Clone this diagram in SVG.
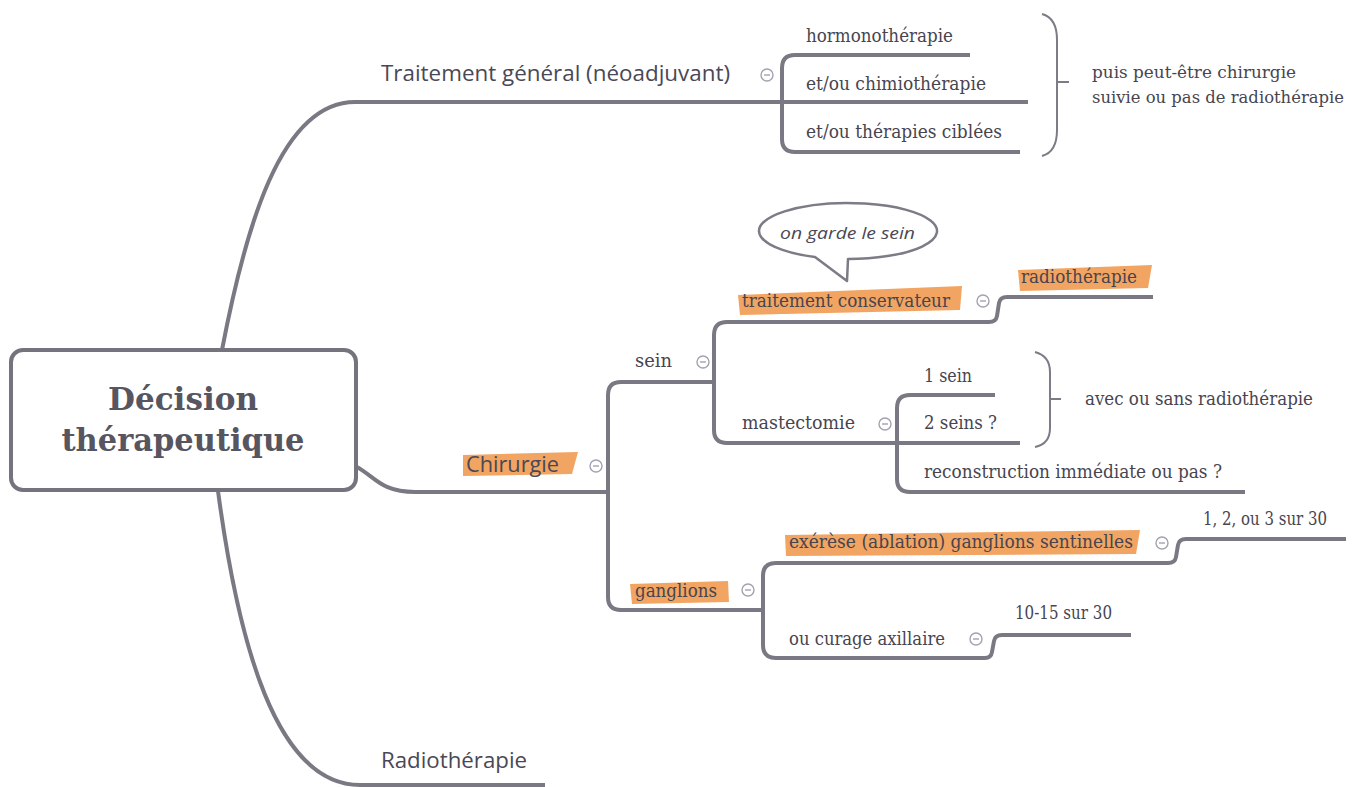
<svg xmlns="http://www.w3.org/2000/svg" width="1367" height="787" viewBox="0 0 1367 787">
<style>
.ln{fill:none;stroke:#7a7882;stroke-width:4;stroke-linejoin:round}
.br{fill:none;stroke:#7d7b86;stroke-width:2}
.sans{font-family:"Open Sans","DejaVu Sans",sans-serif;fill:#4a4855;font-size:22px}
.ser{font-family:"DejaVu Serif","Liberation Serif",serif;fill:#47454f;font-size:18.5px}
.hl{fill:#f2a462}
.tg circle{fill:#fff;stroke:#a3a2b0;stroke-width:1.4}
.tg path{stroke:#a3a2b0;stroke-width:1.4}
</style>
<defs>
<g id="tog" class="tg"><circle r="6"/><path d="M-3,0H3"/></g>
</defs>
<rect width="1367" height="787" fill="#fff"/>
<g id="connectors">
<path class="ln" d="M222,350 C245,230 280,102 355,102 L1028,102"/>
<path class="ln" d="M970,55 L795,55 Q782,55 782,68 L782,139 Q782,152 795,152 L1020,152"/>
<path class="ln" d="M218,491 C238,640 275,785 360,785 L545,785"/>
<path class="ln" d="M355,466 C375,476 380,492 415,492 L607,492"/>
<path class="ln" d="M714,382 L621,382 Q608,382 608,395 L608,597 Q608,610 621,610 L763,610"/>
<path class="ln" d="M1153,297 L1007,297 Q1000,297 999,303 L997,316 Q996,322 989,322 L727,322 Q714,322 714,335 L714,430 Q714,443 727,443 L1020,443"/>
<path class="ln" d="M995,395 L910,395 Q897,395 897,408 L897,479 Q897,492 910,492 L1245,492"/>
<path class="ln" d="M1346,539 L1186,539 Q1179,539 1178,545 L1176,557 Q1175,563 1168,563 L776,563 Q763,563 763,576 L763,645 Q763,658 776,658 L985,658 Q991,658 992,652 L994,641 Q995,635 1002,635 L1131,635"/>
<path class="br" d="M1042,14 Q1057,18 1057,40 L1057,130 Q1057,152 1042,156 M1057,82 L1069,82"/>
<path class="br" d="M1035,352 Q1050,356 1050,372 L1050,428 Q1050,444 1035,447 M1050,399 L1061,399"/>
</g>
<g id="root">
<rect x="11" y="350" width="345" height="140" rx="12" fill="#fff" stroke="#75737d" stroke-width="4"/>
<text x="183" y="410" text-anchor="middle" font-family="'DejaVu Serif',serif" font-weight="bold" font-size="31" fill="#57555f" textLength="150" lengthAdjust="spacingAndGlyphs">Décision</text>
<text x="183" y="451" text-anchor="middle" font-family="'DejaVu Serif',serif" font-weight="bold" font-size="31" fill="#57555f" textLength="243" lengthAdjust="spacingAndGlyphs">thérapeutique</text>
</g>
<g id="n-traitement-general">
<text class="sans" x="381" y="81" textLength="349" lengthAdjust="spacingAndGlyphs">Traitement général (néoadjuvant)</text>
<use href="#tog" x="767" y="75"/>
</g>
<g id="n-hormono"><text class="ser" x="806" y="42" textLength="147" lengthAdjust="spacingAndGlyphs">hormonothérapie</text></g>
<g id="n-chimio"><text class="ser" x="806" y="90" textLength="180" lengthAdjust="spacingAndGlyphs">et/ou chimiothérapie</text></g>
<g id="n-ciblees"><text class="ser" x="806" y="138" textLength="196" lengthAdjust="spacingAndGlyphs">et/ou thérapies ciblées</text></g>
<g id="n-puis">
<text class="ser" x="1092" y="78" font-size="16.5" textLength="204" lengthAdjust="spacingAndGlyphs" style="font-size:16.5px">puis peut-être chirurgie</text>
<text class="ser" x="1092" y="103" textLength="252" lengthAdjust="spacingAndGlyphs" style="font-size:16.5px">suivie ou pas de radiothérapie</text>
</g>
<g id="n-chirurgie">
<polygon class="hl" points="463,455 578,452 572,474 463,476"/>
<text class="sans" x="466" y="472" textLength="93" lengthAdjust="spacingAndGlyphs">Chirurgie</text>
<use href="#tog" x="596" y="466"/>
</g>
<g id="n-sein">
<text class="ser" x="635" y="367" textLength="37" lengthAdjust="spacingAndGlyphs">sein</text>
<use href="#tog" x="703" y="362"/>
</g>
<g id="n-bubble">
<path d="M815,257 L847,281 L848,259 A89,28 0 1 0 815,257 Z" fill="#fff" stroke="#7d7b86" stroke-width="2.5" stroke-linejoin="round"/>
<text x="780" y="239" font-family="'Open Sans','DejaVu Sans',sans-serif" font-style="italic" font-size="17" fill="#4a4855" textLength="135" lengthAdjust="spacingAndGlyphs">on garde le sein</text>
</g>
<g id="n-conservateur">
<polygon class="hl" points="738,295 962,286 960,310 740,315"/>
<text class="ser" x="742" y="307" textLength="208" lengthAdjust="spacingAndGlyphs">traitement conservateur</text>
<use href="#tog" x="983" y="301"/>
</g>
<g id="n-radio1">
<polygon class="hl" points="1018,270 1152,265 1148,288 1020,291"/>
<text class="ser" x="1021" y="283" textLength="116" lengthAdjust="spacingAndGlyphs">radiothérapie</text>
</g>
<g id="n-mastectomie">
<text class="ser" x="742" y="429" textLength="113" lengthAdjust="spacingAndGlyphs">mastectomie</text>
<use href="#tog" x="885" y="424"/>
</g>
<g id="n-1sein"><text class="ser" x="924" y="382" textLength="48" lengthAdjust="spacingAndGlyphs">1 sein</text></g>
<g id="n-2seins"><text class="ser" x="924" y="429" textLength="73" lengthAdjust="spacingAndGlyphs">2 seins ?</text></g>
<g id="n-reconstruction"><text class="ser" x="924" y="478" textLength="298" lengthAdjust="spacingAndGlyphs">reconstruction immédiate ou pas ?</text></g>
<g id="n-avec"><text class="ser" x="1085" y="405" textLength="228" lengthAdjust="spacingAndGlyphs">avec ou sans radiothérapie</text></g>
<g id="n-ganglions">
<polygon class="hl" points="630,584 728,581 729,602 632,604"/>
<text class="ser" x="635" y="597" textLength="82" lengthAdjust="spacingAndGlyphs">ganglions</text>
<use href="#tog" x="748" y="590"/>
</g>
<g id="n-exerese">
<polygon class="hl" points="785,535 1140,530 1136,554 786,556"/>
<text class="ser" x="789" y="548" textLength="344" lengthAdjust="spacingAndGlyphs">exérèse (ablation)  ganglions sentinelles</text>
<use href="#tog" x="1162" y="543"/>
</g>
<g id="n-123"><text class="ser" x="1203" y="525" textLength="124" lengthAdjust="spacingAndGlyphs">1, 2, ou 3 sur 30</text></g>
<g id="n-curage">
<text class="ser" x="789" y="645" textLength="156" lengthAdjust="spacingAndGlyphs">ou curage axillaire</text>
<use href="#tog" x="976" y="639"/>
</g>
<g id="n-1015"><text class="ser" x="1015" y="619" textLength="97" lengthAdjust="spacingAndGlyphs">10-15 sur 30</text></g>
<g id="n-radiotherapie">
<text class="sans" x="381" y="768" textLength="146" lengthAdjust="spacingAndGlyphs">Radiothérapie</text>
</g>
</svg>
